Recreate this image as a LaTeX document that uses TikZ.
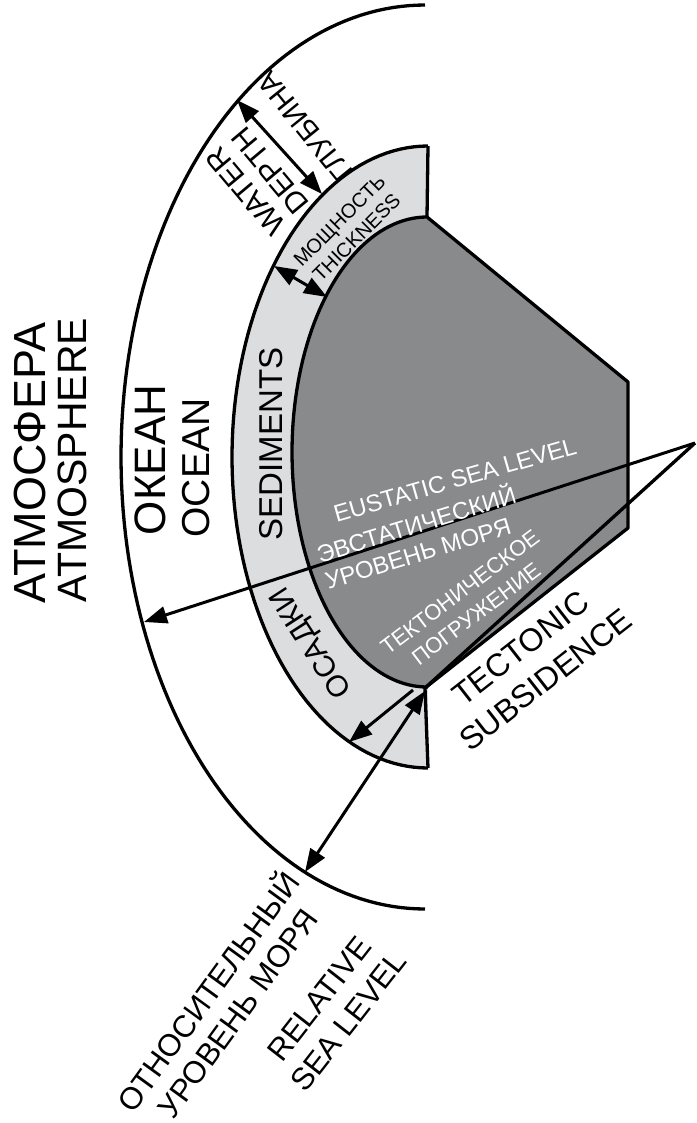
\documentclass[tikz,border=0pt]{standalone}
\usepackage{fontspec}
\setmainfont{Liberation Sans}
\usetikzlibrary{arrows.meta}
\definecolor{bandgray}{RGB}{220,221,223}
\definecolor{coregray}{RGB}{137,138,140}
\begin{document}
\begin{tikzpicture}[x=1pt,y=-1pt,line join=round,
  edge/.style={line width=3.3pt},
  arr/.style={line width=3pt,-{Triangle[length=23pt,width=17pt]}},
  darr/.style={line width=3pt,{Triangle[length=23pt,width=17pt]}-{Triangle[length=23pt,width=17pt]}},
  lbl/.style={inner sep=0pt,align=center},
  wlbl/.style={inner sep=0pt,text=white}]
\useasboundingbox (0,0) rectangle (696,1123);
% key points
\coordinate (bandtop) at (428,146);
\coordinate (coretop) at (427,217);
\coordinate (coreTR) at (628,382);
\coordinate (coreBR) at (628,528);
\coordinate (corner) at (425,688);
\coordinate (bandbot) at (428,768);
\coordinate (apex) at (695,443);
\coordinate (eu) at (144,622);
\coordinate (wdA) at (237,100);
\coordinate (wdB) at (322,194);
\coordinate (thA) at (274,266);
\coordinate (thB) at (327,297);
\coordinate (tbA) at (413,690);
\coordinate (tbB) at (349,742);
\coordinate (rsA) at (425,691);
\coordinate (rsB) at (305,872);
% sediment band
\fill[bandgray] plot[domain=90:270,samples=90] ({428+196*cos(\x)},{457+311*sin(\x)}) -- cycle;
% core
\filldraw[coregray,draw=black,edge] (coretop) -- (coreTR) -- (coreBR) -- (corner)
  -- plot[domain=90:270,samples=90] ({427+135*cos(\x)},{452+235*sin(\x)}) -- cycle;
% band outline
\draw[edge] plot[domain=90:270,samples=90] ({428+196*cos(\x)},{457+311*sin(\x)});
\draw[edge] (bandtop) -- (coretop);
\draw[edge] (corner) -- (bandbot);
% outer (ocean) arc
\draw[edge] plot[domain=90:270,samples=120] ({425+304*cos(\x)},{457+452*sin(\x)});
% lines from apex
\draw[arr] (apex) -- (eu);
\draw[edge] (apex) -- (corner);
% arrows
\draw[darr] (wdA) -- (wdB);
\draw[darr] (thA) -- (thB);
\draw[arr] (tbA) -- (tbB);
\draw[darr] (rsA) -- (rsB);
% labels
\node[lbl,rotate=90,font=\fontsize{45}{45}\selectfont] (atm) at (30,463) {АТМОСФЕРА};
\node[lbl,rotate=90,font=\fontsize{41}{41}\selectfont] (atmE) at (72,460) {ATMOSPHERE};
\node[lbl,rotate=90,font=\fontsize{44}{44}\selectfont] (oke) at (150,460) {ОКЕАН};
\node[lbl,rotate=90,font=\fontsize{39}{39}\selectfont] (oce) at (196,468) {OCEAN};
\node[lbl,rotate=90,font=\fontsize{33}{33}\selectfont] (sed) at (271,444) {SEDIMENTS};
\node[lbl,rotate=123,font=\fontsize{30}{30}\selectfont] (osa) at (312,642) {ОСАДКИ};
\node[lbl,rotate=130,font=\fontsize{30}{32}\selectfont] (wat) at (258,181) {WATER\\DEPTH};
\node[lbl,rotate=129,font=\fontsize{29}{29}\selectfont] (glu) at (305,127) {ГЛУБИНА};
\node[lbl,rotate=45,font=\fontsize{20}{24}\selectfont] (mos) at (348,229) {МОЩНОСТЬ\\THICKNESS};
\node[wlbl,rotate=16,font=\fontsize{24}{24}\selectfont] (eus) at (455,480) {EUSTATIC SEA LEVEL};
\node[wlbl,rotate=17,align=left,font=\fontsize{24}{28}\selectfont] (evs) at (420,536) {ЭВСТАТИЧЕСКИЙ\\УРОВЕНЬ МОРЯ};
\node[wlbl,rotate=37,align=center,font=\fontsize{22}{27}\selectfont] (tek) at (468,603) {ТЕКТОНИЧЕСКОЕ\\ПОГРУЖЕНИЕ};
\node[lbl,rotate=38,font=\fontsize{32}{40}\selectfont] (tec) at (533,664) {TECTONIC\\SUBSIDENCE};
\node[lbl,rotate=54,font=\fontsize{31}{36}\selectfont] (otn) at (221,1001) {ОТНОСИТЕЛЬНЫЙ\\УРОВЕНЬ МОРЯ};
\node[lbl,rotate=52,font=\fontsize{31}{37}\selectfont] (rel) at (334,1010) {RELATIVE\\SEA LEVEL};
\end{tikzpicture}
\end{document}
